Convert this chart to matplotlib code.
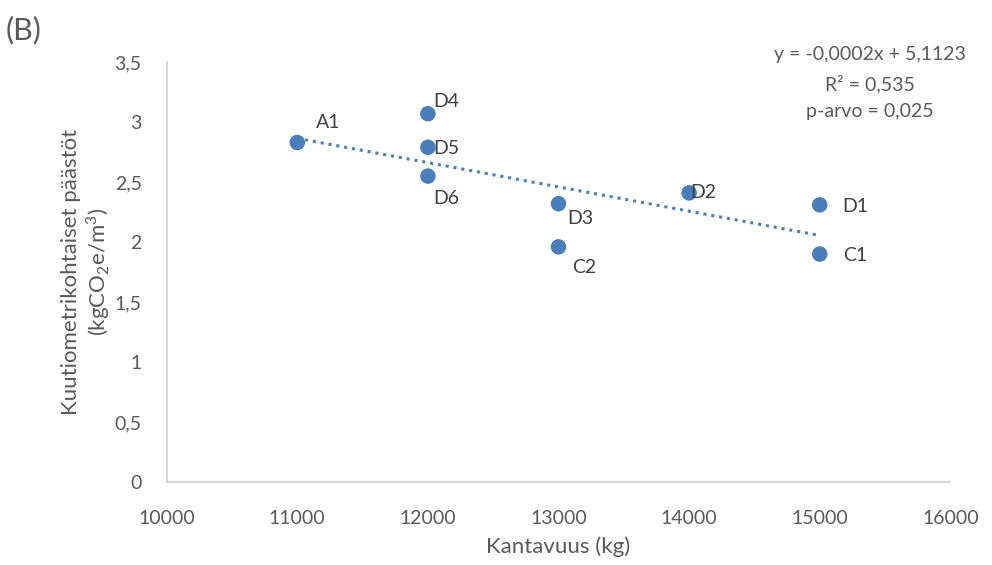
import matplotlib

matplotlib.use("Agg")
import matplotlib.pyplot as plt
import numpy as np

# Data
labels = ["A1", "D4", "D5", "D6", "D3", "C2", "D2", "D1", "C1"]
kantavuus = [11000, 12000, 12000, 12000, 13000, 13000, 14000, 15000, 15000]
paastot = [2.83, 3.07, 2.79, 2.55, 2.32, 1.96, 2.41, 2.31, 1.90]

y_ticks = [0, 0.5, 1, 1.5, 2, 2.5, 3, 3.5]
x_ticks = [10000, 11000, 12000, 13000, 14000, 15000, 16000]

# label offsets (pixels) so labels sit where they are in the original
LABEL_OFFSETS = {
    "A1": (19, 20), "D4": (5, 12), "D5": (5, -1), "D6": (5, -22),
    "D3": (9, -15), "C2": (14, -21), "D2": (1, 0), "D1": (23, -2), "C1": (23, -1),
}

BLUE = "#4a7ebb"
TEXT = "#595959"

plt.rcParams["font.family"] = ["Lato", "DejaVu Sans"]
plt.rcParams["mathtext.fontset"] = "custom"
plt.rcParams["mathtext.rm"] = "Lato"

fig = plt.figure(figsize=(9.92, 5.65), dpi=100)
ax = fig.add_axes([0.168, 0.147, 0.79, 0.743])

x = np.array(kantavuus, dtype=float)
y = np.array(paastot, dtype=float)
ax.scatter(x, y, s=125, color=BLUE, zorder=3, edgecolors="none")

# linear trend line (Excel style, dotted)
k, b = np.polyfit(x, y, 1)
xl = np.linspace(x.min(), x.max(), 50)
ax.plot(xl, k * xl + b, color=BLUE, linestyle=(0, (1, 1.6)), linewidth=2.2, zorder=2)

for lab, xi, yi in zip(labels, kantavuus, paastot):
    dx, dy = LABEL_OFFSETS[lab]
    ax.annotate(lab, (xi, yi), xytext=(dx, dy), textcoords="offset pixels",
                ha="left", va="center", fontsize=14, color="#404040", zorder=4)

ax.set_xlim(10000, 16000)
ax.set_ylim(0, 3.5)
ax.set_xticks(x_ticks)
ax.set_xticklabels([str(t) for t in x_ticks])
ax.set_yticks(y_ticks)
ax.set_yticklabels([f"{t:g}".replace(".", ",") for t in y_ticks])
ax.tick_params(length=0, labelsize=14, labelcolor=TEXT)
ax.tick_params(axis="y", pad=18)
ax.tick_params(axis="x", pad=20)

for side in ("top", "right"):
    ax.spines[side].set_visible(False)
for side in ("left", "bottom"):
    ax.spines[side].set_color("#d0d0d0")
    ax.spines[side].set_linewidth(1.2)

ax.set_xlabel("Kantavuus (kg)", fontsize=16, color=TEXT, labelpad=7)
ax.set_ylabel("Kuutiometrikohtaiset päästöt\n(kgCO$_\\mathregular{2}$e/m$^\\mathregular{3}$)",
              fontsize=16, color=TEXT, labelpad=2, linespacing=1.15)

fig.text(0.877, 0.853, "y = -0,0002x + 5,1123\nR² = 0,535\np-arvo = 0,025",
         ha="center", va="center", fontsize=14, color=TEXT, linespacing=1.7)
fig.text(0.006, 0.947, "(B)", ha="left", va="center", fontsize=22, color=TEXT)

fig.savefig("out.png", dpi=100)
